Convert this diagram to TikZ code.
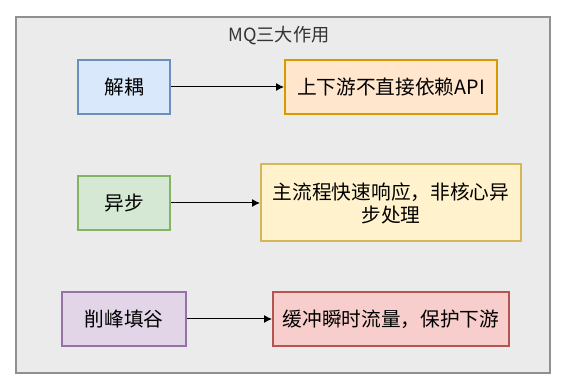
\documentclass[tikz,border=0pt]{standalone}
\usepackage{fontspec}
\setmainfont{Noto Sans CJK SC}
\usetikzlibrary{arrows.meta}
\definecolor{outerfill}{HTML}{EBEBEB}
\definecolor{outerline}{HTML}{909090}
\definecolor{titlecol}{HTML}{333333}
\definecolor{bluefill}{HTML}{DAE8FC}\definecolor{blueline}{HTML}{6C8EBF}
\definecolor{orangefill}{HTML}{FFE6CC}\definecolor{orangeline}{HTML}{D79B00}
\definecolor{greenfill}{HTML}{D5E8D4}\definecolor{greenline}{HTML}{82B366}
\definecolor{yellowfill}{HTML}{FFF2CC}\definecolor{yellowline}{HTML}{D6B656}
\definecolor{purplefill}{HTML}{E1D5E7}\definecolor{purpleline}{HTML}{9673A6}
\definecolor{redfill}{HTML}{F8CECC}\definecolor{redline}{HTML}{B85450}
\tikzset{
  box/.style={draw, line width=2pt, inner sep=0pt, align=center,
    font=\fontsize{19.7}{23}\selectfont},
  conn/.style={draw=black, line width=1pt, -{Latex[length=8pt,width=8pt]}}
}
\begin{document}
\begin{tikzpicture}[x=1pt,y=-1pt]
\useasboundingbox (0,0) rectangle (571,390);
\node[draw=outerline, fill=outerfill, line width=2.4pt, minimum width=534pt, minimum height=356pt, inner sep=0pt] (frame) at (283,195) {};
\node[text=titlecol, font=\fontsize{18.2}{21}\selectfont] (title) at (279,36) {MQ三大作用};
\node[box, draw=blueline, fill=bluefill, minimum width=92pt, minimum height=54pt] (jieou) at (124,87) {解耦};
\node[box, draw=orangeline, fill=orangefill, minimum width=212pt, minimum height=54pt] (jieouR) at (391,87) {上下游不直接依赖API};
\node[box, draw=greenline, fill=greenfill, minimum width=92pt, minimum height=54pt] (yibu) at (124,203) {异步};
\node[box, draw=yellowline, fill=yellowfill, minimum width=260pt, minimum height=77pt] (yibuR) at (391,203) {主流程快速响应，非核心异\\步处理};
\node[box, draw=purpleline, fill=purplefill, minimum width=124pt, minimum height=54pt] (xiaofeng) at (124,319) {削峰填谷};
\node[box, draw=redline, fill=redfill, minimum width=236pt, minimum height=54pt] (xiaofengR) at (391,319) {缓冲瞬时流量，保护下游};
\draw[conn] (jieou) -- (jieouR);
\draw[conn] (yibu) -- (yibuR);
\draw[conn] (xiaofeng) -- (xiaofengR);
\end{tikzpicture}
\end{document}
